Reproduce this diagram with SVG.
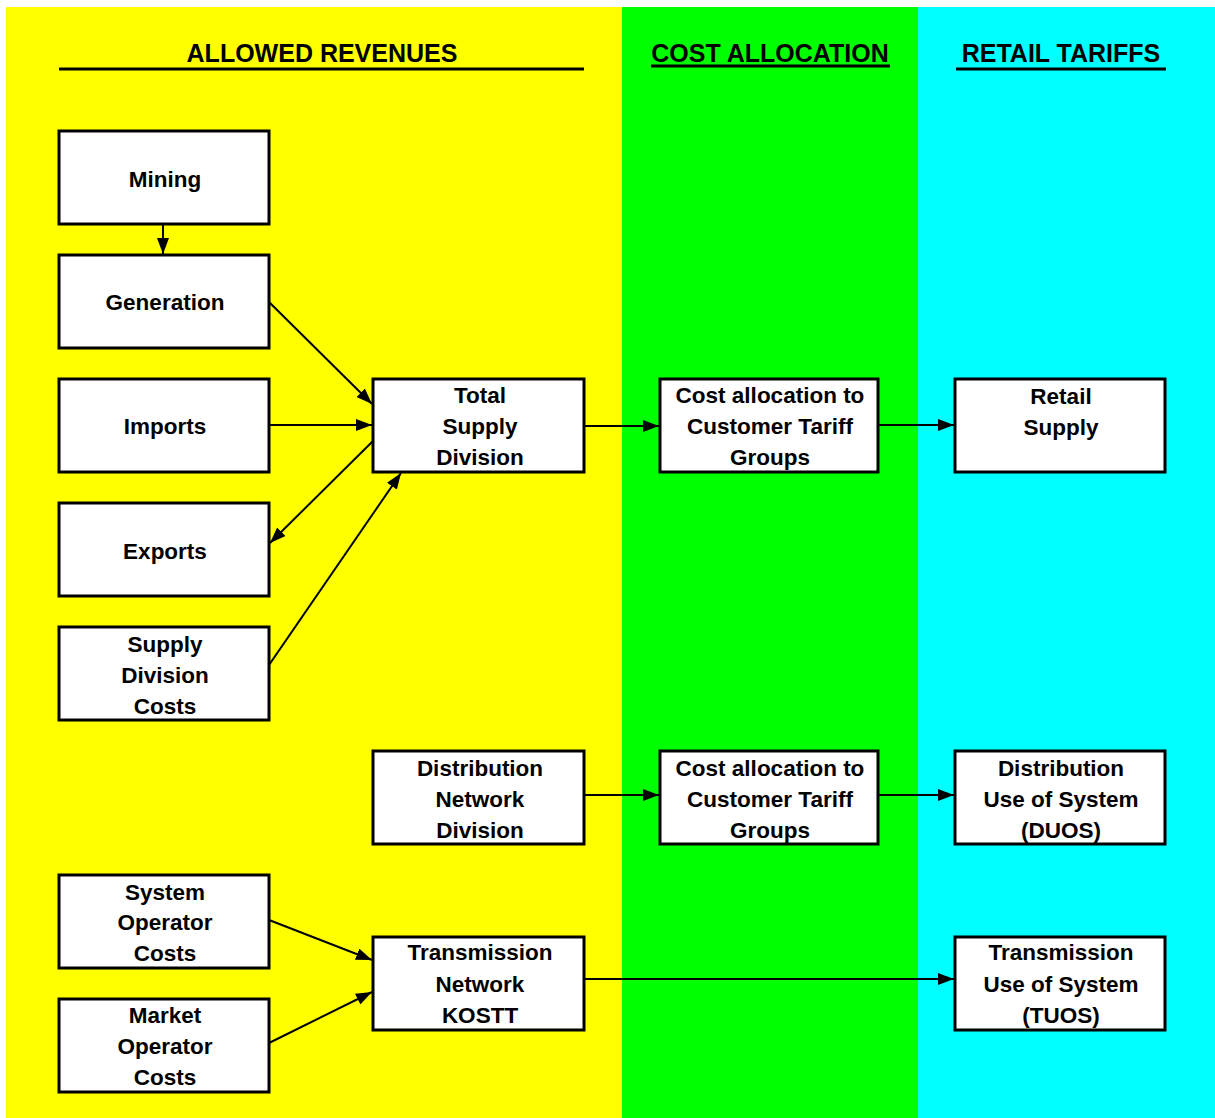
<svg xmlns="http://www.w3.org/2000/svg" width="1215" height="1118" viewBox="0 0 1215 1118">
<style>
.box{fill:#fff;stroke:#000;stroke-width:3}
.t{font-family:"Liberation Sans",Arial,sans-serif;font-weight:bold;font-size:22.5px;text-anchor:middle;fill:#000}
.h{font-family:"Liberation Sans",Arial,sans-serif;font-weight:bold;font-size:25px;text-anchor:middle;fill:#000}
.c{stroke:#000;stroke-width:2;fill:none;marker-end:url(#ah)}
</style>
<defs>
<marker id="ah" viewBox="0 0 16 12" refX="16" refY="6" markerWidth="16" markerHeight="12" markerUnits="userSpaceOnUse" orient="auto">
<path d="M0,0 L16,6 L0,12 Z" fill="#000"/>
</marker>
</defs>
<rect x="0" y="0" width="1215" height="1118" fill="#fff"/>
<rect x="6" y="7" width="616" height="1111" fill="#ffff00"/>
<rect x="622" y="7" width="296" height="1111" fill="#00ff00"/>
<rect x="918" y="7" width="297" height="1111" fill="#00ffff"/>
<g id="headers">
<text class="h" x="322" y="62">ALLOWED REVENUES</text>
<line x1="59" y1="69" x2="584" y2="69" stroke="#000" stroke-width="3"/>
<text class="h" x="770" y="62">COST ALLOCATION</text>
<line x1="651" y1="66" x2="890" y2="66" stroke="#000" stroke-width="3"/>
<text class="h" x="1061" y="62">RETAIL TARIFFS</text>
<line x1="956" y1="69" x2="1166" y2="69" stroke="#000" stroke-width="3"/>
</g>
<g id="connectors">
<line class="c" x1="163" y1="224" x2="163" y2="254"/>
<line class="c" x1="269" y1="302" x2="372" y2="404"/>
<line class="c" x1="269" y1="425" x2="372" y2="425"/>
<line class="c" x1="373" y1="441" x2="270" y2="543"/>
<line class="c" x1="269" y1="665" x2="401" y2="473"/>
<line class="c" x1="584" y1="426" x2="659" y2="426"/>
<line class="c" x1="878" y1="425" x2="954" y2="425"/>
<line class="c" x1="584" y1="795" x2="659" y2="795"/>
<line class="c" x1="878" y1="795" x2="954" y2="795"/>
<line class="c" x1="269" y1="920" x2="372" y2="960"/>
<line class="c" x1="269" y1="1043" x2="372" y2="992"/>
<line class="c" x1="584" y1="979" x2="954" y2="979"/>
</g>
<g id="mining"><rect class="box" x="59" y="131" width="210" height="93"/><text class="t" x="165" y="187">Mining</text></g>
<g id="generation"><rect class="box" x="59" y="255" width="210" height="93"/><text class="t" x="165" y="310">Generation</text></g>
<g id="imports"><rect class="box" x="59" y="379" width="210" height="93"/><text class="t" x="165" y="434">Imports</text></g>
<g id="exports"><rect class="box" x="59" y="503" width="210" height="93"/><text class="t" x="165" y="559">Exports</text></g>
<g id="supply-division-costs"><rect class="box" x="59" y="627" width="210" height="93"/><text class="t" x="165" y="652">Supply</text><text class="t" x="165" y="683">Division</text><text class="t" x="165" y="714">Costs</text></g>
<g id="system-operator-costs"><rect class="box" x="59" y="875" width="210" height="93"/><text class="t" x="165" y="900">System</text><text class="t" x="165" y="930">Operator</text><text class="t" x="165" y="961">Costs</text></g>
<g id="market-operator-costs"><rect class="box" x="59" y="999" width="210" height="93"/><text class="t" x="165" y="1023">Market</text><text class="t" x="165" y="1054">Operator</text><text class="t" x="165" y="1085">Costs</text></g>
<g id="total-supply-division"><rect class="box" x="373" y="379" width="211" height="93"/><text class="t" x="480" y="403">Total</text><text class="t" x="480" y="434">Supply</text><text class="t" x="480" y="465">Division</text></g>
<g id="distribution-network-division"><rect class="box" x="373" y="751" width="211" height="93"/><text class="t" x="480" y="776">Distribution</text><text class="t" x="480" y="807">Network</text><text class="t" x="480" y="838">Division</text></g>
<g id="transmission-network"><rect class="box" x="373" y="937" width="211" height="93"/><text class="t" x="480" y="960">Transmission</text><text class="t" x="480" y="992">Network</text><text class="t" x="480" y="1023">KOSTT</text></g>
<g id="cost-allocation-1"><rect class="box" x="660" y="379" width="218" height="93"/><text class="t" x="770" y="403">Cost allocation to</text><text class="t" x="770" y="434">Customer Tariff</text><text class="t" x="770" y="465">Groups</text></g>
<g id="cost-allocation-2"><rect class="box" x="660" y="751" width="218" height="93"/><text class="t" x="770" y="776">Cost allocation to</text><text class="t" x="770" y="807">Customer Tariff</text><text class="t" x="770" y="838">Groups</text></g>
<g id="retail-supply"><rect class="box" x="955" y="379" width="210" height="93"/><text class="t" x="1061" y="404">Retail</text><text class="t" x="1061" y="435">Supply</text></g>
<g id="duos"><rect class="box" x="955" y="751" width="210" height="93"/><text class="t" x="1061" y="776">Distribution</text><text class="t" x="1061" y="807">Use of System</text><text class="t" x="1061" y="838">(DUOS)</text></g>
<g id="tuos"><rect class="box" x="955" y="937" width="210" height="93"/><text class="t" x="1061" y="960">Transmission</text><text class="t" x="1061" y="992">Use of System</text><text class="t" x="1061" y="1023">(TUOS)</text></g>
</svg>
